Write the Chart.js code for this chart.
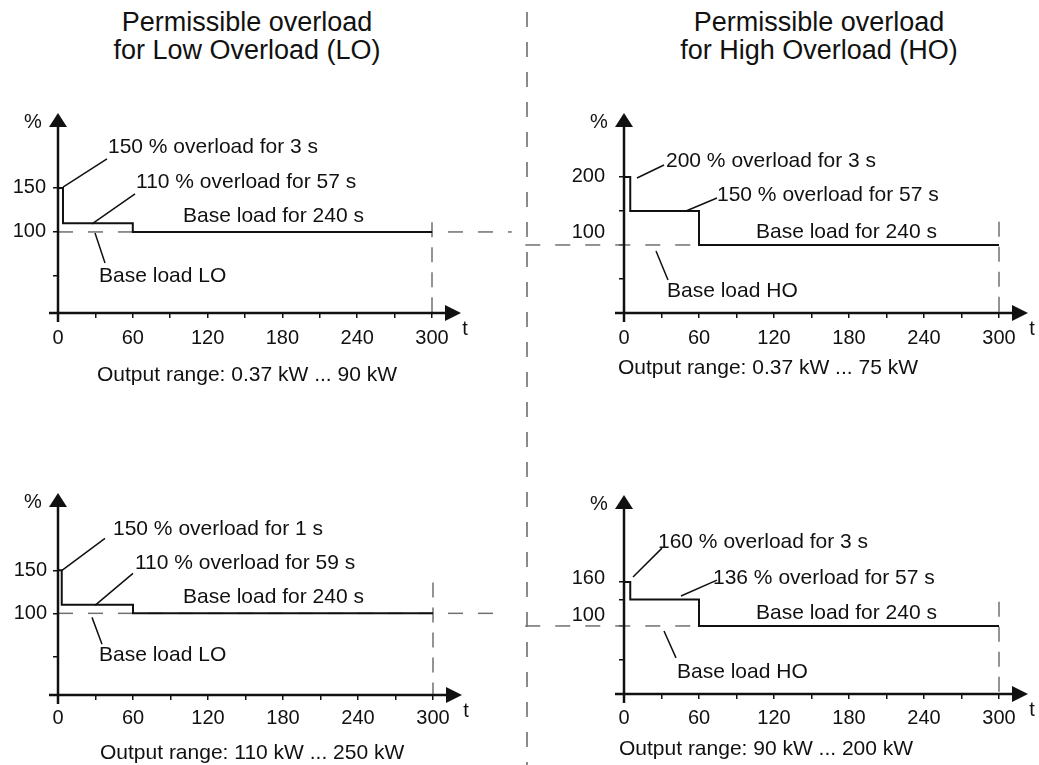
<!DOCTYPE html>
<html>
<head>
<meta charset="utf-8">
<script src="https://cdn.jsdelivr.net/npm/chart.js@4.4.1/dist/chart.umd.min.js"></script>
<style>
  body { margin: 0; background: #fff; width: 1039px; height: 765px; position: relative; overflow: hidden;
         font-family: "Liberation Sans", Arial, Helvetica, sans-serif; color: #111; }
  .title { position: absolute; top: 8px; width: 400px; text-align: center; font-size: 27px; line-height: 28px; }
  .panel { position: absolute; }
  #divider { position: absolute; left: 526px; top: 12px; width: 2px; height: 760px;
             background: repeating-linear-gradient(to bottom, #8a8a8a 0 15px, transparent 15px 30px); }
</style>
</head>
<body>
<div class="title" style="left:47px">Permissible overload<br>for Low Overload (LO)</div>
<div class="title" style="left:619px">Permissible overload<br>for High Overload (HO)</div>
<div id="divider"></div>
<canvas class="panel" id="loSmall" width="520" height="300" style="left:0;top:95px"></canvas>
<canvas class="panel" id="hoSmall" width="519" height="300" style="left:520px;top:95px"></canvas>
<canvas class="panel" id="loLarge" width="520" height="290" style="left:0;top:475px"></canvas>
<canvas class="panel" id="hoLarge" width="519" height="290" style="left:520px;top:475px"></canvas>
<script>
const timeTicks = [0, 30, 60, 90, 120, 150, 180, 210, 240, 270, 300];
const timeLabels = [0, 60, 120, 180, 240, 300];

// Low Overload, 0.37 kW ... 90 kW
const loSmallTime = [0, 4, 60, 300];
const loSmallLoad = [150, 110, 100, 100];
const loSmallTicks = [50, 100, 150];
const loSmallTickLabels = [150, 100];
const loSmallNotes = ['150 % overload for 3 s', '110 % overload for 57 s', 'Base load for 240 s', 'Base load LO'];
const loSmallRange = 'Output range: 0.37 kW ... 90 kW';

// High Overload, 0.37 kW ... 75 kW
const hoSmallTime = [0, 5, 60, 300];
const hoSmallLoad = [200, 150, 100, 100];
const hoSmallTicks = [50, 100, 150, 200];
const hoSmallTickLabels = [200, 100];
const hoSmallNotes = ['200 % overload for 3 s', '150 % overload for 57 s', 'Base load for 240 s', 'Base load HO'];
const hoSmallRange = 'Output range: 0.37 kW ... 75 kW';

// Low Overload, 110 kW ... 250 kW
const loLargeTime = [0, 3, 60, 300];
const loLargeLoad = [150, 110, 100, 100];
const loLargeTicks = [50, 100, 150];
const loLargeTickLabels = [150, 100];
const loLargeNotes = ['150 % overload for 1 s', '110 % overload for 59 s', 'Base load for 240 s', 'Base load LO'];
const loLargeRange = 'Output range: 110 kW ... 250 kW';

// High Overload, 90 kW ... 200 kW
const hoLargeTime = [0, 5, 60, 300];
const hoLargeLoad = [160, 136, 100, 100];
const hoLargeTicks = [54, 100, 136, 160];
const hoLargeTickLabels = [160, 100];
const hoLargeNotes = ['160 % overload for 3 s', '136 % overload for 57 s', 'Base load for 240 s', 'Base load HO'];
const hoLargeRange = 'Output range: 90 kW ... 200 kW';

const ink = '#111';
const dashInk = '#707070';
const fontFamily = '"Liberation Sans", Arial, Helvetica, sans-serif';

const panels = [
  { id: 'loSmall', time: loSmallTime, load: loSmallLoad, yTicks: loSmallTicks, yLabels: loSmallTickLabels,
    notes: loSmallNotes, range: loSmallRange, yMin: 8, yMax: 235,
    pad: { left: 58, right: 88, top: 18, bottom: 42 }, tickPad: 8,
    base: [0, 364], marker: 111, labelDx: 12, labelDy: [0, 0],
    notePos: [[40.1, 196.6], [62.6, 156.8], [100.3, 118.2], [32.9, 50]],
    leaders: [[4, 151, 39.3, 183], [27.3, 109.1, 61.8, 143.2], [29.7, 98.9, 37.7, 64.8]],
    rangeAt: [31.3, 62] },
  { id: 'hoSmall', time: hoSmallTime, load: hoSmallLoad, yTicks: hoSmallTicks, yLabels: hoSmallTickLabels,
    notes: hoSmallNotes, range: hoSmallRange, yMin: 0, yMax: 294,
    pad: { left: 104, right: 40, top: 18, bottom: 42 }, tickPad: 8,
    base: [-79, 303], marker: 134, labelDx: 19, labelDy: [0, -12],
    notePos: [[33.6, 223.5], [74.4, 173.5], [105.6, 119.1], [34.4, 32.4]],
    leaders: [[10.4, 198.5, 32, 217.6], [49.6, 150, 74.4, 169.1], [25.6, 91.2, 35.2, 48.5]],
    rangeAt: [-4.8, 55] },
  { id: 'loLarge', time: loLargeTime, load: loLargeLoad, yTicks: loLargeTicks, yLabels: loLargeTickLabels,
    notes: loLargeNotes, range: loLargeRange, yMin: 5, yMax: 240,
    pad: { left: 58, right: 87, top: 18, bottom: 30 }, tickPad: 6,
    base: [0, 356], marker: 136, labelDx: 11, labelDy: [0, 0],
    notePos: [[44, 197.7], [61.6, 158.1], [100, 118.6], [32.8, 51.2]],
    leaders: [[3.2, 150, 37.6, 187.2], [29.6, 109.3, 60, 146.5], [27.2, 95.3, 35.2, 64]],
    rangeAt: [33.6, 58] },
  { id: 'hoLarge', time: hoLargeTime, load: hoLargeLoad, yTicks: hoLargeTicks, yLabels: hoLargeTickLabels,
    notes: hoLargeNotes, range: hoLargeRange, yMin: 7, yMax: 279,
    pad: { left: 104, right: 40, top: 20, bottom: 31 }, tickPad: 7,
    base: [-79, 303], marker: 133, labelDx: 19, labelDy: [-4, -10],
    notePos: [[27.2, 214.5], [71.2, 165.5], [105.6, 117.7], [42.4, 37.3]],
    leaders: [[7.2, 166.8, 30.4, 206.4], [45.6, 140.9, 74.4, 162.7], [32, 93.2, 41.6, 56.4]],
    rangeAt: [-4, 55] }
];

const decor = {
  id: 'decor',
  afterDraw(chart) {
    const p = chart.options.plugins.decor.panel;
    const { ctx, chartArea: a, scales: { x, y } } = chart;
    const x0 = x.getPixelForValue(0);
    ctx.save();
    ctx.strokeStyle = ink;
    ctx.fillStyle = ink;

    // axes with arrow heads
    ctx.lineWidth = 2.5;
    ctx.beginPath();
    ctx.moveTo(x0, a.bottom + 9);
    ctx.lineTo(x0, a.top + 10);
    ctx.moveTo(x0 - 9, a.bottom);
    ctx.lineTo(a.right + 14, a.bottom);
    ctx.stroke();
    ctx.beginPath();
    ctx.moveTo(x0, a.top);
    ctx.lineTo(x0 - 9, a.top + 14);
    ctx.lineTo(x0 + 9, a.top + 14);
    ctx.closePath();
    ctx.fill();
    ctx.beginPath();
    ctx.moveTo(a.right + 29, a.bottom);
    ctx.lineTo(a.right + 13, a.bottom - 8);
    ctx.lineTo(a.right + 13, a.bottom + 8);
    ctx.closePath();
    ctx.fill();

    // leader lines
    ctx.lineWidth = 1.5;
    ctx.beginPath();
    p.leaders.forEach(l => {
      ctx.moveTo(x.getPixelForValue(l[0]), y.getPixelForValue(l[1]));
      ctx.lineTo(x.getPixelForValue(l[2]), y.getPixelForValue(l[3]));
    });
    ctx.stroke();

    // y tick labels, axis names
    ctx.font = '20px ' + fontFamily;
    ctx.textBaseline = 'middle';
    ctx.textAlign = 'right';
    p.yLabels.forEach((v, i) => {
      ctx.fillText(String(v), x0 - p.labelDx, y.getPixelForValue(v) + p.labelDy[i]);
    });
    ctx.textAlign = 'center';
    ctx.fillText('%', x0 - 25, a.top + 9);
    ctx.fillText('t', a.right + 33, a.bottom + 16);

    // notes
    ctx.font = '21px ' + fontFamily;
    ctx.textAlign = 'left';
    p.notes.forEach((t, i) => {
      ctx.fillText(t, x.getPixelForValue(p.notePos[i][0]), y.getPixelForValue(p.notePos[i][1]));
    });
    ctx.fillText(p.range, x.getPixelForValue(p.rangeAt[0]), a.bottom + p.rangeAt[1]);
    ctx.restore();
  }
};

panels.forEach(p => {
  new Chart(document.getElementById(p.id), {
    type: 'line',
    data: {
      datasets: [{
        data: p.time.map((t, i) => ({ x: t, y: p.load[i] })),
        stepped: 'before',
        borderColor: ink,
        borderWidth: 2,
        pointRadius: 0,
        clip: false
      }, {
        data: [{ x: p.base[0], y: 100 }, { x: p.base[1], y: 100 }],
        borderColor: dashInk,
        borderWidth: 1.5,
        borderDash: [15, 15],
        pointRadius: 0,
        clip: false
      }, {
        data: [{ x: 300, y: p.marker }, { x: 300, y: p.yMin }],
        borderColor: dashInk,
        borderWidth: 1.5,
        borderDash: [15, 10],
        pointRadius: 0,
        clip: false
      }]
    },
    options: {
      responsive: false,
      animation: false,
      events: [],
      layout: { padding: p.pad },
      plugins: { legend: { display: false }, tooltip: { enabled: false }, decor: { panel: p } },
      scales: {
        x: {
          type: 'linear', min: 0, max: 300,
          afterBuildTicks: s => { s.ticks = timeTicks.map(v => ({ value: v })); },
          afterFit: s => { s.height = 40; },
          border: { display: false },
          grid: { drawOnChartArea: false, drawTicks: true, tickLength: 5, color: ink, lineWidth: 1.5 },
          ticks: {
            autoSkip: false, maxRotation: 0, padding: p.tickPad, color: ink,
            font: { size: 20, family: fontFamily },
            callback: v => timeLabels.includes(v) ? String(v) : ''
          }
        },
        y: {
          type: 'linear', min: p.yMin, max: p.yMax,
          afterBuildTicks: s => { s.ticks = p.yTicks.map(v => ({ value: v })); },
          afterFit: s => { s.width = 0; },
          border: { display: false },
          grid: { drawOnChartArea: false, drawTicks: true, tickLength: 5, color: ink, lineWidth: 1.5 },
          ticks: { display: false }
        }
      }
    },
    plugins: [decor]
  });
});
</script>
</body>
</html>
